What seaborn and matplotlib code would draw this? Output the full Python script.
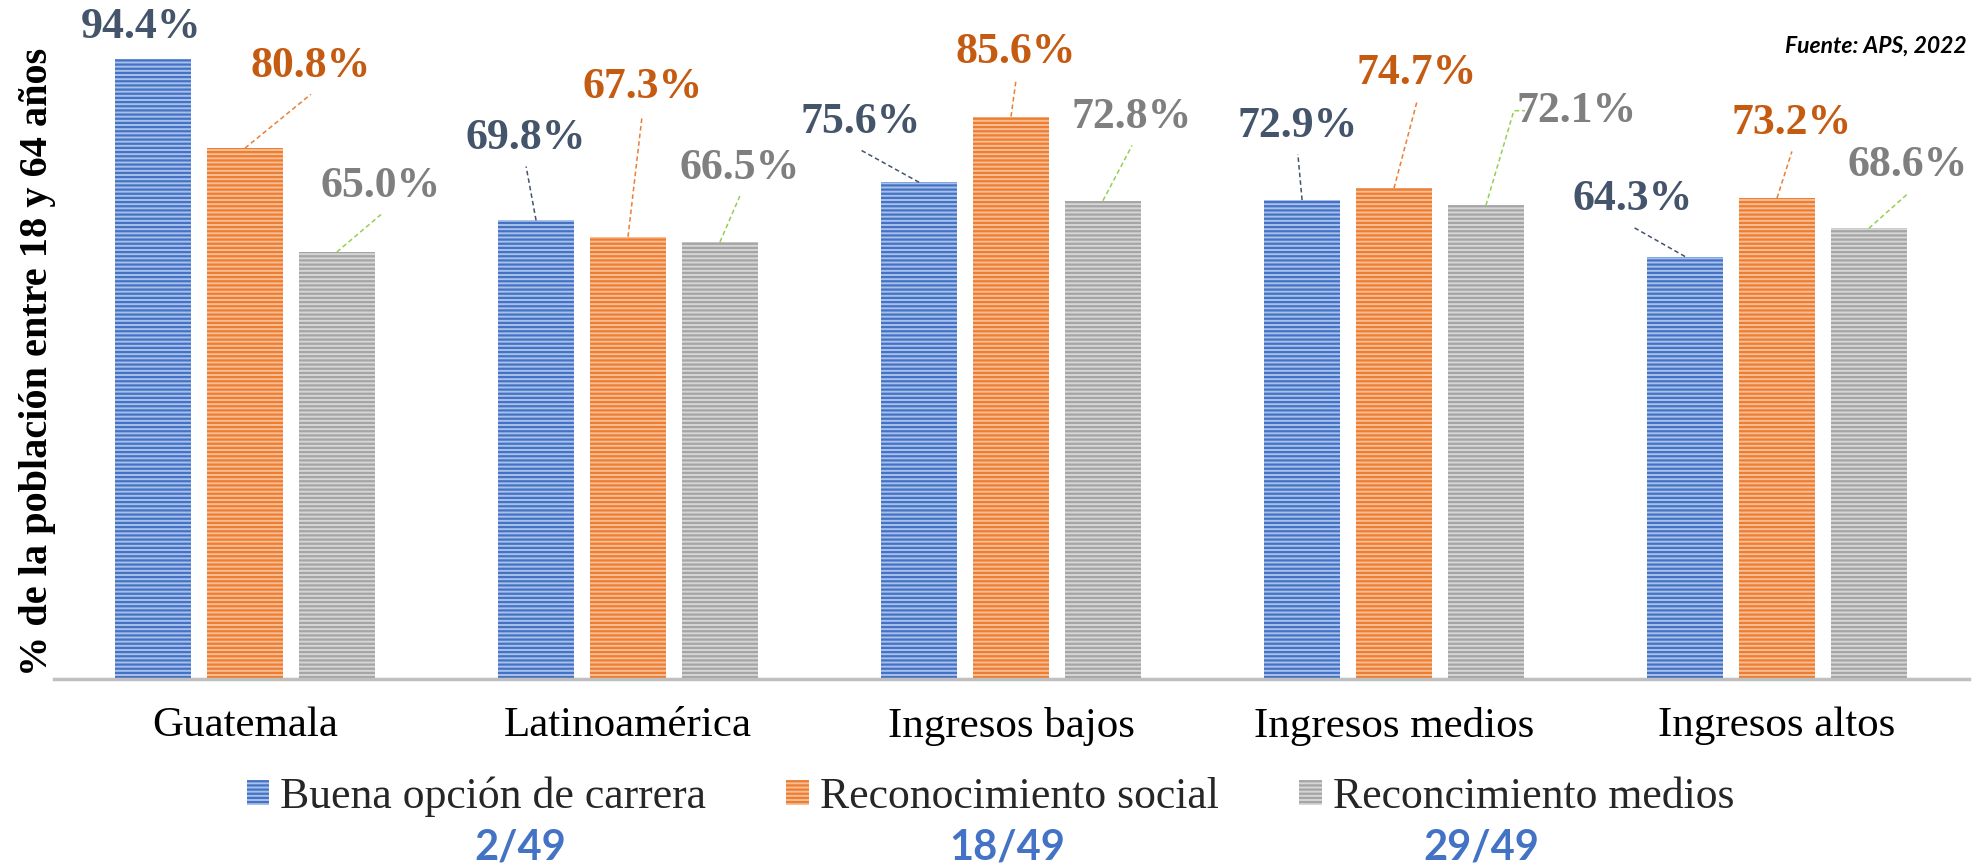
import matplotlib
matplotlib.use("Agg")
import matplotlib.pyplot as plt
from matplotlib.patches import Patch
import pandas as pd
import seaborn as sns

# ---------------- data ----------------
categories = ["Guatemala", "Latinoamérica", "Ingresos bajos", "Ingresos medios", "Ingresos altos"]
series_names = ["Buena opción de carrera", "Reconocimiento social", "Reconcimiento medios"]
buena_opcion = [94.4, 69.8, 75.6, 72.9, 64.3]
reconocimiento_social = [80.8, 67.3, 85.6, 74.7, 73.2]
reconocimiento_medios = [65.0, 66.5, 72.8, 72.1, 68.6]
rank_labels = ["2/49", "18/49", "29/49"]
source_text = "Fuente: APS, 2022"
y_label = "% de la población entre 18 y 64 años"

# ---------------- styling / layout ----------------
dark_colors = ["#4472C4", "#ED7D31", "#A5A5A5"]
light_colors = ["#A9C1EA", "#F7BE96", "#D6D6D6"]
label_colors = ["#44546A", "#C55A11", "#7F7F7F"]
leader_colors = ["#44546A", "#ED7D31", "#92D050"]
# label offsets (dx in category units, dy in % units) relative to bar top centre
label_offsets = [
    [(-0.032, 4.8), (-0.026, 12.5), (-0.152, 9.2), (-0.011, 11.3), (-0.136, 8.8)],
    [(0.172, 12.5), (0.037, 22.8), (0.013, 9.8), (0.060, 17.5), (0.039, 11.4)],
    [(0.115, 10.0), (0.052, 11.3), (0.076, 12.7), (0.238, 14.4), (0.102, 9.6)],
]
leader_style = [
    ["none", "line", "line", "line", "line"],
    ["line", "line", "line", "line", "line"],
    ["line", "line", "line", "elbow", "line"],
]

df = pd.DataFrame({
    "categoria": categories * 3,
    "serie": [series_names[0]] * 5 + [series_names[1]] * 5 + [series_names[2]] * 5,
    "valor": buena_opcion + reconocimiento_social + reconocimiento_medios,
})

sns.set_theme(style="white")
plt.rcParams["font.family"] = ["Liberation Serif", "DejaVu Serif"]
plt.rcParams["hatch.linewidth"] = 1.6

W, H = 1973, 868
fig = plt.figure(figsize=(W / 100, H / 100), dpi=100)
ax = fig.add_axes([53.5 / W, 189 / H, 1915 / W, 657 / H])

sns.barplot(data=df, x="categoria", y="valor", hue="serie", order=categories,
            hue_order=series_names, palette=light_colors, width=0.72, gap=0.18,
            linewidth=0, saturation=1, errorbar=None, ax=ax, legend=False)

for k, cont in enumerate(ax.containers):
    for p in cont.patches:
        p.set_edgecolor(dark_colors[k])
        p.set_hatch("----")
        p.set_linewidth(0)

ax.set_xlim(-0.5, 4.5)
ax.set_ylim(0, 100)
ax.set_xlabel("")
ax.set_ylabel("")
ax.set_yticks([])
for s in ["left", "right", "top"]:
    ax.spines[s].set_visible(False)
ax.spines["bottom"].set_color("#BFBFBF")
ax.spines["bottom"].set_linewidth(2.5)
ax.tick_params(axis="x", length=0, pad=20, labelsize=31, labelcolor="black")

# value labels with leader lines
for k, cont in enumerate(ax.containers):
    for i, p in enumerate(cont.patches):
        bx = p.get_x() + p.get_width() / 2
        top = p.get_height()
        dx, dy = label_offsets[k][i]
        lx, ly = bx + dx, top + dy
        ax.text(lx, ly, f"{top:.1f}%", ha="center", va="center", fontsize=31.5,
                fontweight="bold", color=label_colors[k], clip_on=False)
        style = leader_style[k][i]
        if style == "line":
            ax.plot([bx, lx], [top, ly - 4.3], ls=(0, (3, 2)), lw=1.1,
                    color=leader_colors[k], clip_on=False)
        elif style == "elbow":
            ax.plot([bx, lx - 0.165, lx - 0.136], [top, ly, ly], ls=(0, (3, 2)),
                    lw=1.1, color=leader_colors[k], clip_on=False)

# y label
fig.text(38 / W, 1 - 362 / H, y_label, rotation=90, ha="center", va="center",
         fontsize=29, fontweight="bold", color="black")

# source
fig.text(1967 / W, 1 - 46 / H, source_text, ha="right", va="center", fontsize=16.5,
         fontweight="bold", style="italic", family=["Lato", "DejaVu Sans"], color="black")

# legend
handles = [Patch(facecolor=light_colors[k], edgecolor=dark_colors[k], hatch="----",
                 linewidth=0, label=series_names[k]) for k in range(3)]
fig.legend(handles=handles, loc="center", bbox_to_anchor=(0.502, 1 - 797 / H), ncol=3,
           frameon=False, fontsize=31.5, handlelength=0.52, handleheight=0.5,
           handletextpad=0.25, columnspacing=1.83, borderpad=0, borderaxespad=0)

# ranks
for x_px, txt in zip([520, 1007, 1481], rank_labels):
    fig.text(x_px / W, 1 - 848 / H, txt, ha="center", va="center", fontsize=30,
             fontweight="bold", family=["Lato", "DejaVu Sans"], color="#4472C4")

fig.savefig("out.png", dpi=100)
